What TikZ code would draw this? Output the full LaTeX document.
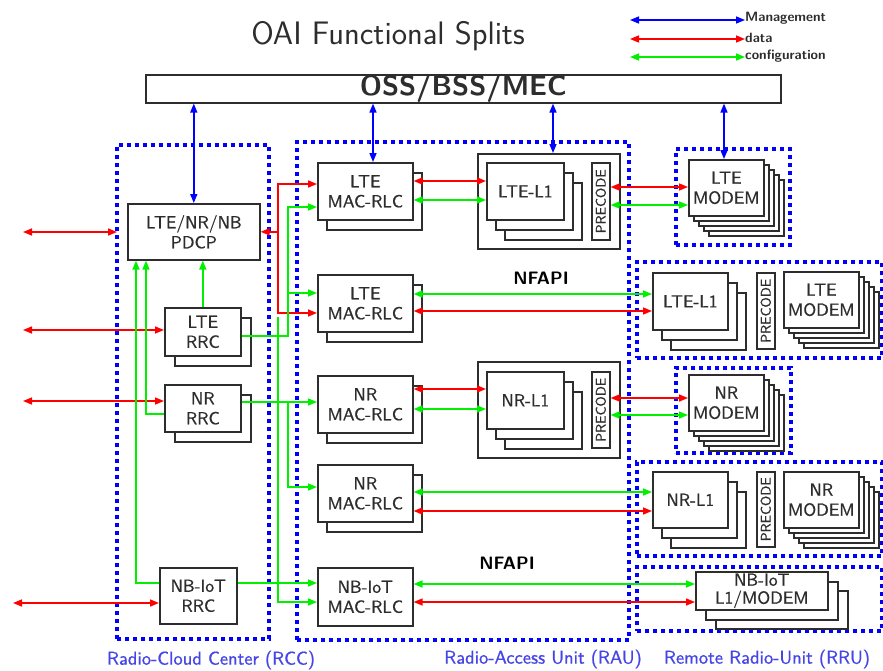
\documentclass[tikz,border=0pt]{standalone}
\usepackage{tikz,xcolor,graphicx}
\usepackage{fontspec}
\usetikzlibrary{arrows.meta, shadows, calc}

\newfontfamily\boxsf{lmsans10-regular.otf}[FakeBold=0.9]

\definecolor{boxgray}{RGB}{45,45,45}
\definecolor{mgmtblue}{RGB}{0,0,255}
\definecolor{datared}{RGB}{255,0,0}
\definecolor{cfggreen}{RGB}{0,240,0}
\definecolor{unitblue}{RGB}{70,70,230}

\def\boxfont{\boxsf\fontsize{17.5}{20}\selectfont}
\def\prefont{\boxsf\fontsize{14}{14}\selectfont}

\tikzset{
	blk/.style={draw=boxgray, line width=1.6pt, fill=white, inner sep=0pt, align=center, anchor=north west, text=boxgray, font=\boxfont},
	sz/.style 2 args={minimum width=#1pt, minimum height=#2pt},
	sh/.style 2 args={copy shadow={shadow xshift=#1, shadow yshift=-#2, draw=boxgray, line width=1.6pt}},
	stack1/.style={sh={10pt}{10pt}},
	stack2/.style={sh={18pt}{20pt}, sh={9pt}{10pt}},
	stack4/.style={sh={20pt}{20pt}, sh={15pt}{15pt}, sh={10pt}{10pt}, sh={5pt}{5pt}},
	frame/.style={draw=mgmtblue, line width=3.8pt, dash pattern=on 4pt off 4pt, inner sep=0pt, outer sep=0pt, anchor=north west},
	mgmt/.style={mgmtblue, line width=1.5pt},
	data/.style={datared, line width=1.5pt},
	cfg/.style={cfggreen, line width=1.5pt},
	unitlbl/.style={text=unitblue, font=\boxsf\fontsize{18.5}{19}\selectfont},
	legend/.style={anchor=west, inner sep=0pt, text=boxgray, font=\sffamily\bfseries\fontsize{13.5}{14}\selectfont}
}

\begin{document}
\begin{tikzpicture}[x=1pt, y=-1pt, font=\sffamily, >={Triangle[length=9pt,width=7pt]}]

	\useasboundingbox (0,0) rectangle (883,670);

	% Title and legend
	\node[anchor=base, text=boxgray, font=\sffamily\fontsize{32.5}{33}\selectfont] (title) at (388,44) {OAI Functional Splits};
	\node[legend] (lgmgmt) at (745,18) {Management};
	\node[legend] (lgdata) at (745,38) {data};
	\node[legend] (lgcfg) at (745,56) {configuration};
	\coordinate (lg1) at (630,20);
	\coordinate (lg2) at (630,39);
	\coordinate (lg3) at (630,57);
	\draw[mgmt,<->] (lg1) -- (lgmgmt.west |- lg1);
	\draw[data,<->] (lg2) -- (lgdata.west |- lg2);
	\draw[cfg,<->] (lg3) -- (lgcfg.west |- lg3);

	% Draw the unit frames
	\node[frame, sz={152}{494}] (rcc) at (117,145) {};
	\node[frame, sz={332}{498}] (rau) at (297,142) {};
	\node[frame, sz={114}{96}] (rrulm) at (676,149) {};
	\node[frame, sz={245}{96}] (rrul1) at (637,262) {};
	\node[frame, sz={115}{85}] (rrunm) at (676,368) {};
	\node[frame, sz={245}{94}] (rrun1) at (637,462) {};
	\node[frame, sz={245}{64}] (rrunb) at (637,567) {};
	\node[unitlbl] (rcclbl) at (211,660) {Radio-Cloud Center (RCC)};
	\node[unitlbl] (raulbl) at (543,659) {Radio-Access Unit (RAU)};
	\node[unitlbl] (rrulbl) at (767,659) {Remote Radio-Unit (RRU)};

	% OSS bar
	\node[blk, sz={635}{28}, font=\sffamily\bfseries\fontsize{28}{28}\selectfont] (oss) at (145,74) {OSS/BSS/MEC};

	% Radio-cloud center
	\node[blk, sz={132}{56}] (pdcp) at (127,203) {LTE/NR/NB\\PDCP};
	\node[blk, sz={76}{48}, stack1] (lrrc) at (164,307) {LTE\\RRC};
	\node[blk, sz={76}{47}, stack1] (nrrc) at (164,384) {NR\\RRC};
	\node[blk, sz={77}{56}] (nbrrc) at (159,567) {NB-IoT\\RRC};

	% Radio-access unit
	\node[blk, sz={95}{57}, sh={9pt}{10pt}] (lmac1) at (317,162) {LTE\\MAC-RLC};
	\node[blk, sz={95}{57}, sh={9pt}{10pt}] (lmac2) at (317,274) {LTE\\MAC-RLC};
	\node[blk, sz={95}{57}, sh={9pt}{10pt}] (nmac1) at (317,375) {NR\\MAC-RLC};
	\node[blk, sz={95}{57}, sh={9pt}{10pt}] (nmac2) at (317,464) {NR\\MAC-RLC};
	\node[blk, sz={95}{58}] (nbmac) at (317,567) {NB-IoT\\MAC-RLC};

	\node[blk, sz={142}{95}] (lcont) at (477,153) {};
	\node[blk, sz={77}{57}, stack2] (ll1) at (486,162) {LTE-L1};
	\node[blk, sz={18}{77}, font=\prefont] (lpre) at (591,162) {\rotatebox{90}{PRECODE}};
	\node[blk, sz={142}{96}] (ncont) at (477,361) {};
	\node[blk, sz={77}{57}, stack2] (nl1) at (486,371) {NR-L1};
	\node[blk, sz={18}{76}, font=\prefont] (npre) at (591,371) {\rotatebox{90}{PRECODE}};

	\node[font=\sffamily\bfseries\fontsize{18}{18}\selectfont] (nfapi1) at (541,278) {NFAPI};
	\node[font=\sffamily\bfseries\fontsize{18}{18}\selectfont] (nfapi2) at (507,563) {NFAPI};

	% Remote radio-units
	\node[blk, sz={75}{56}, stack4] (lmodem) at (688,159) {LTE\\MODEM};
	\node[blk, sz={75}{57}, stack2] (rl1) at (652,272) {LTE-L1};
	\node[blk, sz={18}{76}, font=\prefont] (rlpre) at (756,272) {\rotatebox{90}{PRECODE}};
	\node[blk, sz={75}{56}, stack4] (rlmodem) at (783,271) {LTE\\MODEM};
	\node[blk, sz={75}{56}, stack4] (nmodem) at (688,374) {NR\\MODEM};
	\node[blk, sz={75}{56}, stack2] (rnl1) at (652,471) {NR-L1};
	\node[blk, sz={18}{75}, font=\prefont] (rnpre) at (756,471) {\rotatebox{90}{PRECODE}};
	\node[blk, sz={75}{56}, stack4] (rnmodem) at (783,471) {NR\\MODEM};
	\node[blk, sz={132}{38}, sh={20pt}{19pt}, sh={10pt}{10pt}, font=\boxsf\fontsize{17.5}{18}\selectfont] (nbl1) at (695,571) {NB-IoT\\L1/MODEM};

	% Management links
	\draw[mgmt,<->] (oss.south -| pdcp.north) -- (pdcp.north);
	\draw[mgmt,<->] (oss.south -| 373,0) -- (lmac1.north -| 373,0);
	\draw[mgmt,<->] (oss.south -| 553,0) -- (lcont.north -| 553,0);
	\draw[mgmt,<->] (oss.south -| 724,0) -- (lmodem.north -| 724,0);

	% Outside data links
	\coordinate (ext1) at (23,232);
	\coordinate (ext2) at (23,330);
	\coordinate (ext3) at (23,401);
	\coordinate (ext4) at (13,603);
	\draw[data,<->] (ext1) -- (rcc.west |- ext1);
	\draw[data,<->] (ext2) -- (lrrc.west |- ext2);
	\draw[data,<->] (ext3) -- (nrrc.west |- ext3);
	\draw[data,<->] (ext4) -- (nbrrc.west |- ext4);

	% PDCP to MAC data
	\coordinate (jd) at (278,231);
	\draw[data,<->] (pdcp.east) -| (278,184) -- (lmac1.west |- 0,184);
	\draw[data,->] (jd) |- (lmac2.west |- 0,313);

	% RRC configuration
	\draw[cfg,->] (lrrc.north) -- (pdcp.south -| lrrc.north);
	\draw[cfg,->] (nrrc.west |- 0,414) -| (146,0 |- pdcp.south);
	\draw[cfg,->] (nbrrc.west |- 0,583) -| (136,0 |- pdcp.south);
	\coordinate (jl) at (288,293);
	\coordinate (jn) at (288,402);
	\coordinate (jb) at (278,317);
	\draw[cfg,->] (lrrc.east |- 0,336) -| (288,207) -- (lmac1.west |- 0,207);
	\draw[cfg,->] (jl) -- (lmac2.west |- jl);
	\draw[cfg,->] (nrrc.east |- 0,402) -- (nmac1.west |- 0,402);
	\draw[cfg,->] (jn) |- (nmac2.west |- 0,487);
	\draw[cfg,->] (jb) |- (nbmac.west |- 0,602);
	\draw[cfg,->] (nbrrc.east |- 0,583) -- (nbmac.west |- 0,583);

	% MAC to L1
	\draw[data,<->] (lmac1.east |- 0,181) -- (ll1.west |- 0,181);
	\draw[cfg,<->] (lmac1.east |- 0,200) -- (ll1.west |- 0,200);
	\draw[data,<->] (nmac1.east |- 0,389) -- (nl1.west |- 0,389);
	\draw[cfg,<->] (nmac1.east |- 0,409) -- (nl1.west |- 0,409);

	% Precode to modem
	\draw[data,<->] (lpre.east |- 0,187) -- (lmodem.west |- 0,187);
	\draw[cfg,<->] (lpre.east |- 0,205) -- (lmodem.west |- 0,205);
	\draw[data,<->] (npre.east |- 0,398) -- (nmodem.west |- 0,398);
	\draw[cfg,<->] (npre.east |- 0,415) -- (nmodem.west |- 0,415);

	% MAC to remote L1 (NFAPI)
	\draw[cfg,<->] (lmac2.east |- 0,294) -- (rl1.west |- 0,294);
	\draw[data,<->] (lmac2.east |- 0,311) -- (rl1.west |- 0,311);
	\draw[cfg,<->] (nmac2.east |- 0,492) -- (rnl1.west |- 0,492);
	\draw[data,<->] (nmac2.east |- 0,511) -- (rnl1.west |- 0,511);
	\draw[cfg,<->] (nbmac.east |- 0,584) -- (nbl1.west |- 0,584);
	\draw[data,<->] (nbmac.east |- 0,602) -- (nbl1.west |- 0,602);

\end{tikzpicture}
\end{document}
